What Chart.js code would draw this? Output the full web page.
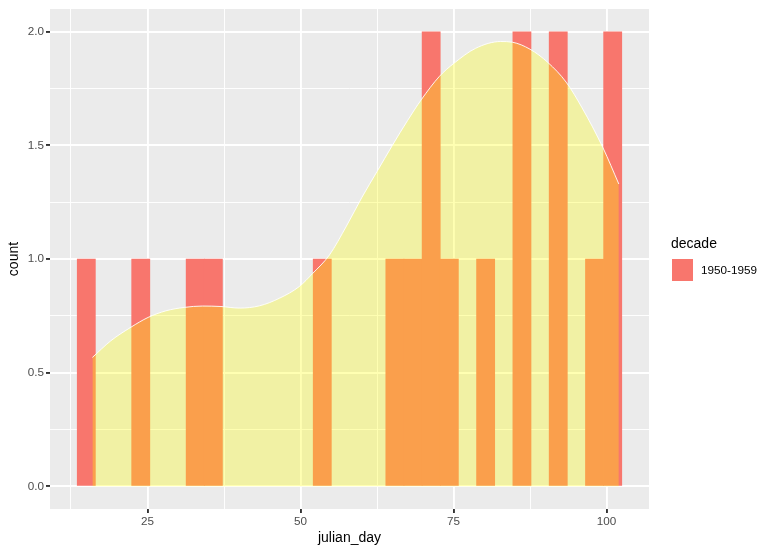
<!DOCTYPE html>
<html lang="en">
<head>
    <meta charset="UTF-8">
    <title>julian_day histogram</title>
    <style>
        body, html {
            margin: 0;
            padding: 0;
            background: #ffffff;
            overflow: hidden;
        }

        #wrap {
            width: 776px;
            height: 555px;
            position: relative;
        }
    </style>
</head>
<body>

<div id="wrap">
    <canvas id="histChart"></canvas>
</div>

<script src="https://cdn.jsdelivr.net/npm/chart.js"></script>
<script>
    // histogram bins (30 bins, centres) and counts
    const binCenters = [15.000, 17.966, 20.931, 23.897, 26.862, 29.828, 32.793, 35.759, 38.724, 41.690,
                        44.655, 47.621, 50.586, 53.552, 56.517, 59.483, 62.448, 65.414, 68.379, 71.345,
                        74.310, 77.276, 80.241, 83.207, 86.172, 89.138, 92.103, 95.069, 98.034, 101.000];
    const binCounts = [1, 0, 0, 1, 0, 0, 1, 1, 0, 0,
                       0, 0, 0, 1, 0, 0, 0, 1, 1, 2,
                       1, 0, 1, 0, 2, 0, 2, 0, 1, 2];

    // density curve
    const densityX = [16, 19, 22.3, 25.1, 28, 31, 34, 37, 40, 43.3, 46.6, 49.8, 52, 54.7, 57.5,
                      60, 62.5, 65, 67.5, 69.7, 72.7, 75.1, 78.6, 82.7, 84.6, 87.5, 90.4, 93.4, 96, 99.4, 102];
    const densityY = [0.567, 0.64, 0.70, 0.743, 0.772, 0.787, 0.793, 0.791, 0.784, 0.794, 0.828, 0.879, 0.937, 1.017, 1.145,
                      1.27, 1.385, 1.50, 1.61, 1.70, 1.804, 1.862, 1.927, 1.957, 1.954, 1.923, 1.865, 1.778, 1.665, 1.49, 1.33];

    const xTicks = [12.5, 25, 37.5, 50, 62.5, 75, 87.5, 100];
    const xTickLabels = ['', '25', '', '50', '', '75', '', '100'];
    const yTicks = [0, 0.25, 0.5, 0.75, 1, 1.25, 1.5, 1.75, 2];
    const yTickLabels = ['0.0', '', '0.5', '', '1.0', '', '1.5', '', '2.0'];

    const decadeLabel = '1950-1959';
    const legendTitle = 'decade';

    const FONT = '"Liberation Sans", Arial, sans-serif';
    const BAR_COLOR = '#F8766D';

    // grey panel behind the grid
    const panelBg = {
        id: 'panelBg',
        beforeDraw(chart) {
            const { ctx, chartArea } = chart;
            ctx.save();
            ctx.fillStyle = '#EBEBEB';
            ctx.fillRect(chartArea.left, chartArea.top, chartArea.right - chartArea.left, chartArea.bottom - chartArea.top);
            ctx.restore();
        }
    };

    // ggplot style legend on the right
    const sideLegend = {
        id: 'sideLegend',
        afterDraw(chart) {
            const ctx = chart.ctx;
            const ds = chart.data.datasets[1];
            ctx.save();
            ctx.textBaseline = 'middle';
            ctx.textAlign = 'left';
            ctx.fillStyle = '#000000';
            ctx.font = '14px ' + FONT;
            ctx.fillText(legendTitle, 671, 244);
            ctx.fillStyle = ds.backgroundColor;
            ctx.fillRect(672, 259, 21, 22);
            ctx.fillStyle = '#000000';
            ctx.font = '11.7px ' + FONT;
            ctx.fillText(ds.label, 701, 270.5);
            ctx.restore();
        }
    };

    function gridOpts(labels) {
        return {
            offset: false,
            color: '#FFFFFF',
            lineWidth: ctx => labels[ctx.index] ? 1.9 : 0.95,
            drawTicks: true,
            tickLength: 4,
            tickWidth: 1.9,
            tickColor: ctx => labels[ctx.index] ? '#333333' : 'rgba(0,0,0,0)'
        };
    }

    const ctx = document.getElementById('histChart').getContext('2d');
    new Chart(ctx, {
        type: 'bar',
        data: {
            datasets: [
                {
                    type: 'line',
                    label: 'density',
                    data: densityX.map((x, i) => ({ x: x, y: densityY[i] })),
                    borderColor: 'rgba(255,255,255,0.9)',
                    borderWidth: 1,
                    backgroundColor: 'rgba(255,255,0,0.3)',
                    fill: 'origin',
                    pointRadius: 0,
                    cubicInterpolationMode: 'monotone',
                    order: 0
                },
                {
                    label: decadeLabel,
                    // empty bins left out so nothing is drawn on the baseline
                    data: binCenters.map((x, i) => ({ x: x, y: binCounts[i] > 0 ? binCounts[i] : null })),
                    backgroundColor: BAR_COLOR,
                    borderWidth: 0,
                    barPercentage: 1.0,
                    categoryPercentage: 1.0,
                    order: 1
                }
            ]
        },
        options: {
            responsive: true,
            maintainAspectRatio: false,
            animation: false,
            layout: {
                padding: { top: 7, right: 127, left: 0, bottom: 0 }
            },
            plugins: {
                legend: { display: false },
                tooltip: { enabled: false }
            },
            scales: {
                x: {
                    type: 'linear',
                    offset: false,
                    min: 9.07,
                    max: 106.93,
                    afterBuildTicks: axis => { axis.ticks = xTicks.map(v => ({ value: v })); },
                    afterFit: axis => { axis.height = 46; },
                    grid: gridOpts(xTickLabels),
                    border: { display: false },
                    ticks: {
                        autoSkip: false,
                        maxRotation: 0,
                        padding: 2,
                        color: '#4D4D4D',
                        font: { family: FONT, size: 11.7 },
                        callback: (value, index) => xTickLabels[index]
                    },
                    title: {
                        display: true,
                        text: 'julian_day',
                        color: '#000000',
                        font: { family: FONT, size: 14 },
                        padding: { top: 0, bottom: 8.5 }
                    }
                },
                y: {
                    min: -0.1,
                    max: 2.1,
                    afterBuildTicks: axis => { axis.ticks = yTicks.map(v => ({ value: v })); },
                    afterFit: axis => { axis.width = 50; },
                    grid: gridOpts(yTickLabels),
                    border: { display: false },
                    ticks: {
                        autoSkip: false,
                        padding: 2,
                        color: '#4D4D4D',
                        font: { family: FONT, size: 11.7 },
                        callback: (value, index) => yTickLabels[index]
                    },
                    title: {
                        display: true,
                        text: 'count',
                        color: '#000000',
                        font: { family: FONT, size: 14 },
                        padding: { top: 5.6, bottom: 0 }
                    }
                }
            }
        },
        plugins: [panelBg, sideLegend]
    });
</script>

</body>
</html>
